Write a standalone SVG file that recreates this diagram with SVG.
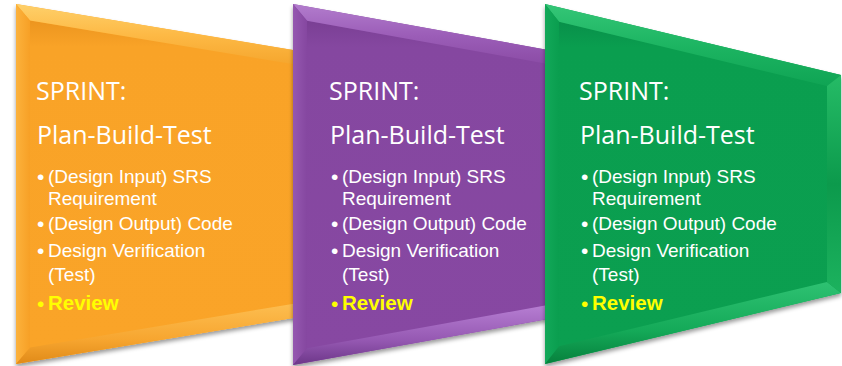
<svg xmlns="http://www.w3.org/2000/svg" width="842" height="366" viewBox="0 0 842 366">
<style>
.t1{font-family:"Open Sans","Liberation Sans",sans-serif;font-size:25px;fill:#fff}
.t2{font-family:"Liberation Sans",Arial,sans-serif;font-size:19px;fill:#fff}
.bu{font-size:21px}
.rv{font-family:"Liberation Sans",Arial,sans-serif;font-size:20.5px;font-weight:bold;fill:#ffff00}
.by{font-size:21px;font-weight:normal}
</style>
<defs>
<filter id="sh" x="-5%" y="-5%" width="112%" height="115%">
<feDropShadow dx="0" dy="3" stdDeviation="2.2" flood-color="#000" flood-opacity="0.4"/>
</filter>
<linearGradient id="oTop" x1="0" y1="0" x2="0" y2="1"><stop offset="0" stop-color="#fed06a"/><stop offset="0.5" stop-color="#fdb945"/><stop offset="1" stop-color="#f5a52c"/></linearGradient>
<linearGradient id="oLeft" x1="0" y1="0" x2="1" y2="0"><stop offset="0" stop-color="#fcb23c"/><stop offset="1" stop-color="#f7a026"/></linearGradient>
<linearGradient id="oBot" x1="0" y1="0" x2="0" y2="1"><stop offset="0" stop-color="#fdbf52"/><stop offset="0.6" stop-color="#f7a630"/><stop offset="1" stop-color="#e08a18"/></linearGradient>
<linearGradient id="oMain" x1="0" y1="0" x2="0" y2="1"><stop offset="0" stop-color="#ec951f"/><stop offset="0.08" stop-color="#f9a327"/><stop offset="1" stop-color="#faa428"/></linearGradient>

<linearGradient id="pTop" x1="0" y1="0" x2="0" y2="1"><stop offset="0" stop-color="#b27ccd"/><stop offset="0.5" stop-color="#9c5eb8"/><stop offset="1" stop-color="#8a4ba5"/></linearGradient>
<linearGradient id="pLeft" x1="0" y1="0" x2="1" y2="0"><stop offset="0" stop-color="#9558b0"/><stop offset="1" stop-color="#8547a0"/></linearGradient>
<linearGradient id="pBot" x1="0" y1="0" x2="0" y2="1"><stop offset="0" stop-color="#b880d4"/><stop offset="0.6" stop-color="#9558b2"/><stop offset="1" stop-color="#6c3688"/></linearGradient>
<linearGradient id="pMain" x1="0" y1="0" x2="0" y2="1"><stop offset="0" stop-color="#7a3f94"/><stop offset="0.08" stop-color="#8547a0"/><stop offset="1" stop-color="#8748a2"/></linearGradient>

<linearGradient id="gTop" x1="0" y1="0" x2="0" y2="1"><stop offset="0" stop-color="#34c677"/><stop offset="0.5" stop-color="#1db562"/><stop offset="1" stop-color="#0fa454"/></linearGradient>
<linearGradient id="gLeft" x1="0" y1="0" x2="1" y2="0"><stop offset="0" stop-color="#12a859"/><stop offset="1" stop-color="#0a9e4f"/></linearGradient>
<linearGradient id="gBot" x1="0" y1="0" x2="0" y2="1"><stop offset="0" stop-color="#2ec272"/><stop offset="0.6" stop-color="#14a958"/><stop offset="1" stop-color="#06803c"/></linearGradient>
<linearGradient id="gRight" x1="0" y1="0" x2="0" y2="1"><stop offset="0" stop-color="#25bb66"/><stop offset="0.5" stop-color="#0c9a4c"/><stop offset="1" stop-color="#1cb25e"/></linearGradient>
<linearGradient id="gMain" x1="0" y1="0" x2="0" y2="1"><stop offset="0" stop-color="#08904a"/><stop offset="0.08" stop-color="#0a9e4f"/><stop offset="1" stop-color="#0b9f50"/></linearGradient>
</defs>

<g id="sprint-orange">
<polygon points="16,4 320,54.5 320,313.5 16,364" fill="#f9a327" filter="url(#sh)"/>
<polygon points="30,20.5 306,66.3 306,301.7 30,347.5" fill="url(#oMain)"/>
<polygon points="16,4 320,54.5 306,66.3 30,20.5" fill="url(#oTop)"/>
<polygon points="16,4 30,20.5 30,347.5 16,364" fill="url(#oLeft)"/>
<polygon points="16,364 30,347.5 306,301.7 320,313.5" fill="url(#oBot)"/>
<polygon points="320,54.5 306,66.3 306,301.7 320,313.5" fill="#e0901e"/>
<text class="t1" x="36" y="100">SPRINT:</text>
<text class="t1" x="37" y="144">Plan-Build-Test</text>
<text class="t2" y="183"><tspan class="bu" x="37" y="184">•</tspan><tspan x="48" y="183">(Design Input) SRS</tspan><tspan x="48" y="204.5">Requirement</tspan></text>
<text class="t2" y="230"><tspan class="bu" x="37" y="231">•</tspan><tspan x="48" y="230">(Design Output) Code</tspan></text>
<text class="t2" y="257"><tspan class="bu" x="37" y="258">•</tspan><tspan x="48" y="257">Design Verification</tspan><tspan x="48" y="281">(Test)</tspan></text>
<text class="rv" y="310"><tspan class="by" x="37" y="311">•</tspan><tspan x="48" y="310">Review</tspan></text>
</g>

<g id="sprint-purple">
<polygon points="293,4 570,53.9 570,315.1 293,365" fill="#8547a0" filter="url(#sh)"/>
<polygon points="307,20.7 556,65.5 556,303.5 307,348.3" fill="url(#pMain)"/>
<polygon points="293,4 570,53.9 556,65.5 307,20.7" fill="url(#pTop)"/>
<polygon points="293,4 307,20.7 307,348.3 293,365" fill="url(#pLeft)"/>
<polygon points="293,365 307,348.3 556,303.5 570,315.1" fill="url(#pBot)"/>
<polygon points="570,53.9 556,65.5 556,303.5 570,315.1" fill="#6e3888"/>
<text class="t1" x="329" y="100">SPRINT:</text>
<text class="t1" x="330" y="144">Plan-Build-Test</text>
<text class="t2" y="183"><tspan class="bu" x="331" y="184">•</tspan><tspan x="342" y="183">(Design Input) SRS</tspan><tspan x="342" y="204.5">Requirement</tspan></text>
<text class="t2" y="230"><tspan class="bu" x="331" y="231">•</tspan><tspan x="342" y="230">(Design Output) Code</tspan></text>
<text class="t2" y="257"><tspan class="bu" x="331" y="258">•</tspan><tspan x="342" y="257">Design Verification</tspan><tspan x="342" y="281">(Test)</tspan></text>
<text class="rv" y="310"><tspan class="by" x="331" y="311">•</tspan><tspan x="342" y="310">Review</tspan></text>
</g>

<g id="sprint-green">
<polygon points="545,4 841,75 841,293 545,364" fill="#0a9e4f" filter="url(#sh)"/>
<polygon points="559,21.8 827,86.1 827,281.9 559,346.2" fill="url(#gMain)"/>
<polygon points="545,4 841,75 827,86.1 559,21.8" fill="url(#gTop)"/>
<polygon points="545,4 559,21.8 559,346.2 545,364" fill="url(#gLeft)"/>
<polygon points="545,364 559,346.2 827,281.9 841,293" fill="url(#gBot)"/>
<polygon points="841,75 827,86.1 827,281.9 841,293" fill="url(#gRight)"/>
<text class="t1" x="579" y="100">SPRINT:</text>
<text class="t1" x="580" y="144">Plan-Build-Test</text>
<text class="t2" y="183"><tspan class="bu" x="581" y="184">•</tspan><tspan x="592" y="183">(Design Input) SRS</tspan><tspan x="592" y="204.5">Requirement</tspan></text>
<text class="t2" y="230"><tspan class="bu" x="581" y="231">•</tspan><tspan x="592" y="230">(Design Output) Code</tspan></text>
<text class="t2" y="257"><tspan class="bu" x="581" y="258">•</tspan><tspan x="592" y="257">Design Verification</tspan><tspan x="592" y="281">(Test)</tspan></text>
<text class="rv" y="310"><tspan class="by" x="581" y="311">•</tspan><tspan x="592" y="310">Review</tspan></text>
</g>

<g id="connectors"/>
</svg>
